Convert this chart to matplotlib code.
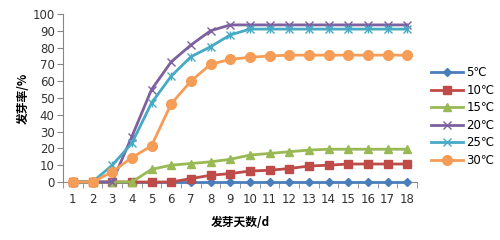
import matplotlib
matplotlib.use('Agg')
import matplotlib.pyplot as plt
from matplotlib.ticker import MultipleLocator, FixedLocator

plt.rcParams['font.family'] = ['DejaVu Sans', 'Noto Sans CJK SC']

# 数据
days = list(range(1, 19))
labels = ['5℃', '10℃', '15℃', '20℃', '25℃', '30℃']
g5 = [0] * 18
g10 = [0, 0, 0, 0, 0, 0, 2, 4, 5, 6.5, 7, 8, 9.5, 10, 10.7, 10.7, 10.7, 10.7]
g15 = [0, 0, 0, 0, 7.5, 10, 11, 12, 13.5, 16, 17, 18, 19, 19.5, 19.5, 19.5, 19.5, 19.5]
g20 = [0, 0, 0, 27, 55, 71.5, 81.5, 90, 93.5, 93.5, 93.5, 93.5, 93.5, 93.5, 93.5, 93.5, 93.5, 93.5]
g25 = [0, 0, 10, 23, 47, 63, 74.5, 80.5, 87.5, 91, 91, 91, 91, 91, 91, 91, 91, 91]
g30 = [0, 0, 6, 14.5, 21.5, 46.5, 60, 70, 73, 74.2, 75, 75.5, 75.5, 75.5, 75.5, 75.5, 75.5, 75.5]

series = [g5, g10, g15, g20, g25, g30]
colors = ['#4A7EBB', '#BE4B48', '#98B954', '#7D60A0', '#46AAC5', '#F59D56']
markers = ['D', 's', '^', 'x', 'x', 'o']
msizes = [4.5, 6, 6, 6, 6, 7]

fig = plt.figure(figsize=(5, 2.4), dpi=100)
ax = fig.add_axes([0.126, 0.2417, 0.708, 0.7])

for ys, lab, c, m, ms in zip(series, labels, colors, markers, msizes):
    if lab == '25℃':
        # 星号标记：x 与 | 叠加
        ax.plot(days, ys, color=c, lw=2, marker='x', ms=ms, mew=1,
                label=lab, clip_on=False, zorder=3)
        ax.plot(days, ys, color=c, lw=0, marker='|', ms=ms, mew=1,
                clip_on=False, zorder=3)
    elif m == 'x':
        ax.plot(days, ys, color=c, lw=2, marker=m, ms=ms, mew=1,
                label=lab, clip_on=False, zorder=3)
    else:
        ax.plot(days, ys, color=c, lw=2, marker=m, ms=ms, mec=c, mfc=c,
                label=lab, clip_on=False, zorder=3)

ax.set_xlim(0.5, 18.5)
ax.set_ylim(0, 100)
ax.set_xticks(days)
ax.set_xticklabels([str(d) for d in days])
ax.xaxis.set_minor_locator(FixedLocator([i + 0.5 for i in range(0, 19)]))
ax.yaxis.set_major_locator(MultipleLocator(10))

for s in ['top', 'right']:
    ax.spines[s].set_visible(False)
for s in ['left', 'bottom']:
    ax.spines[s].set_color('#868686')
    ax.spines[s].set_linewidth(0.8)

ax.tick_params(axis='x', which='major', length=0, pad=8, labelsize=8.5, labelcolor='#333333')
ax.tick_params(axis='x', which='minor', length=4, color='#868686', direction='out')
ax.tick_params(axis='y', which='major', length=4, color='#868686', direction='out',
               labelsize=8.5, labelcolor='#333333', pad=2)

ax.set_xlabel('发芽天数/d', fontsize=8.5, fontweight='bold',
              family=['Noto Sans CJK SC'], labelpad=7)
ax.set_ylabel('发芽率/%', fontsize=8.5, fontweight='bold',
              family=['Noto Sans CJK SC'], labelpad=2)

leg = ax.legend(loc='center left', bbox_to_anchor=(1.01, 0.39), frameon=False,
                handlelength=2.7, handletextpad=0.3, labelspacing=0.38,
                prop={'family': ['DejaVu Sans', 'Noto Sans CJK SC'], 'size': 8.5})

fig.savefig('out.png', dpi=100)
